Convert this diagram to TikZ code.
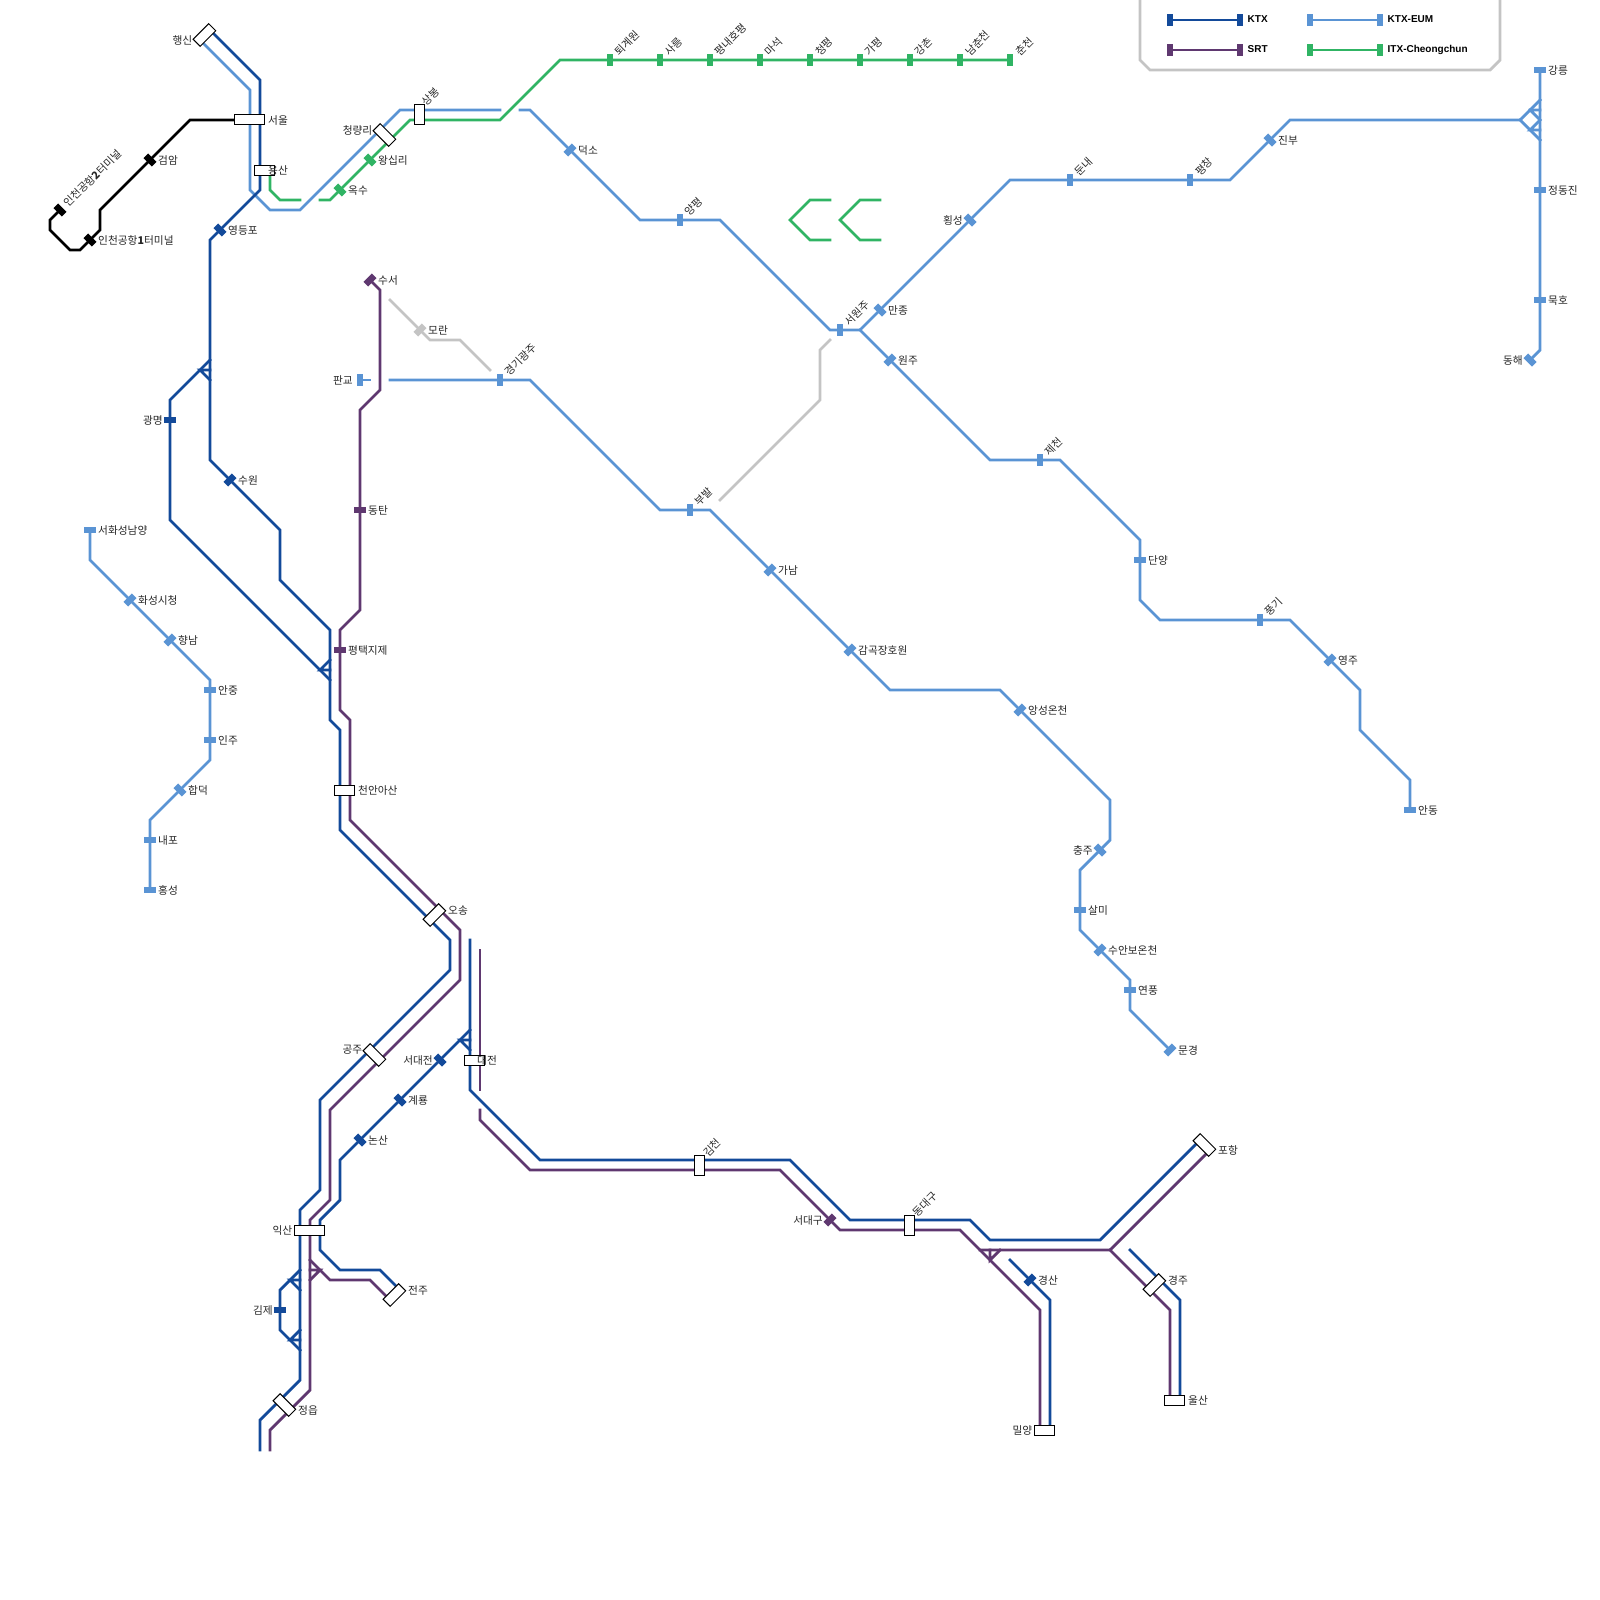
\documentclass[tikz,border=0pt]{standalone}
\usepackage{fontspec}
\setmainfont{Noto Sans CJK KR}
\newfontfamily\lgfont{Liberation Sans}
\pgfdeclarelayer{lines}
\pgfsetlayers{lines,main}
\definecolor{ktx}{HTML}{134A9A}
\definecolor{eum}{HTML}{5A94D4}
\definecolor{srt}{HTML}{5F3870}
\definecolor{itx}{HTML}{30B464}
\definecolor{arex}{HTML}{000000}
\definecolor{gry}{HTML}{C4C4C4}
\tikzset{
  rail/.style={draw=#1,line width=2.8pt,line cap=rect},
  mk/.style={rectangle,fill=#1,draw=none,inner sep=0pt,minimum width=12pt,minimum height=6.5pt},
  bx/.style={rectangle,fill=white,draw=black,line width=1pt,inner sep=0pt,xshift=-0.6pt},
  lbl/.style={inner sep=0pt,yshift=-0.2pt,font=\fontsize{10.7pt}{11pt}\selectfont,text=black!85},
  lg/.style={inner sep=0pt,anchor=west,font=\lgfont\bfseries\fontsize{10pt}{11pt}\selectfont},
  wall/.style={draw=gry,line width=2.8pt}
}
\newcommand{\Mk}[5]{\node[mk=#5,rotate=#4] (#1) at (#2,#3) {};}
\newcommand{\Bx}[6]{\node[bx,minimum width=#5pt,minimum height=#6pt,rotate=#4] (#1) at (#2,#3) {};}
\newcommand{\LblR}[2]{\node[lbl,anchor=west] (#1t) at ([xshift=8pt]#1.center) {#2};}
\newcommand{\LblL}[2]{\node[lbl,anchor=east] (#1t) at ([xshift=-7pt]#1.center) {#2};}
\newcommand{\LblU}[2]{\node[lbl,anchor=west,rotate=45] (#1t) at ([xshift=7pt,yshift=6.4pt]#1.center) {#2};}
\newcommand{\LblA}[5]{\node[lbl,anchor=#4] (#1t) at (#2,#3) {#5};}
\begin{document}
\begin{tikzpicture}[x=1pt,y=-1pt]
\useasboundingbox (0,0) rectangle (1600,1600);
% ---------- small stations
\Mk{inchb}{60}{210}{-45}{arex}
\Mk{incha}{90}{240}{-45}{arex}
\Mk{geomam}{150}{160}{-45}{arex}
\Mk{yeongdp}{220}{230}{-45}{ktx}
\Mk{suwon}{230}{480}{45}{ktx}
\Mk{gwangm}{170}{420}{0}{ktx}
\Mk{gimje}{280}{1310}{0}{ktx}
\Mk{seodj}{440}{1060}{-45}{ktx}
\Mk{gyeryong}{400}{1100}{-45}{ktx}
\Mk{nonsan}{360}{1140}{-45}{ktx}
\Mk{gyeongsan}{1030}{1280}{45}{ktx}
\Mk{suseo}{370}{280}{45}{srt}
\Mk{dongtan}{360}{510}{0}{srt}
\Mk{pyeongtaek}{340}{650}{0}{srt}
\Mk{seodg}{830}{1220}{45}{srt}
\Mk{moran}{420}{330}{45}{gry}
\Mk{oksu}{340}{190}{-45}{itx}
\Mk{wangsim}{370}{160}{-45}{itx}
\Mk{toegye}{610}{60}{90}{itx}
\Mk{sareung}{660}{60}{90}{itx}
\Mk{pyeongnae}{710}{60}{90}{itx}
\Mk{maseok}{760}{60}{90}{itx}
\Mk{cheongp}{810}{60}{90}{itx}
\Mk{gapyeong}{860}{60}{90}{itx}
\Mk{gangchon}{910}{60}{90}{itx}
\Mk{namchun}{960}{60}{90}{itx}
\Mk{chuncheon}{1010}{60}{90}{itx}
\Mk{deokso}{570}{150}{45}{eum}
\Mk{yangp}{680}{220}{90}{eum}
\Mk{seowonju}{840}{330}{90}{eum}
\Mk{manjong}{880}{310}{-45}{eum}
\Mk{wonju}{890}{360}{45}{eum}
\Mk{hoengs}{970}{220}{-45}{eum}
\Mk{dunnae}{1070}{180}{90}{eum}
\Mk{pyeongch}{1190}{180}{90}{eum}
\Mk{jinbu}{1270}{140}{-45}{eum}
\Mk{gangn}{1540}{70}{0}{eum}
\Mk{jeongd}{1540}{190}{0}{eum}
\Mk{mukho}{1540}{300}{0}{eum}
\Mk{donghae}{1530}{360}{-45}{eum}
\Mk{jecheon}{1040}{460}{90}{eum}
\Mk{danyang}{1140}{560}{0}{eum}
\Mk{punggi}{1260}{620}{90}{eum}
\Mk{yeongju}{1330}{660}{45}{eum}
\Mk{andong}{1410}{810}{0}{eum}
\Mk{pangyo}{360}{380}{90}{eum}
\Mk{gwangju}{500}{380}{90}{eum}
\Mk{bubal}{690}{510}{90}{eum}
\Mk{ganam}{770}{570}{45}{eum}
\Mk{gamgok}{850}{650}{45}{eum}
\Mk{angseong}{1020}{710}{45}{eum}
\Mk{chungju}{1100}{850}{-45}{eum}
\Mk{salmi}{1080}{910}{0}{eum}
\Mk{suanbo}{1100}{950}{45}{eum}
\Mk{yeonp}{1130}{990}{0}{eum}
\Mk{mungyeong}{1170}{1050}{45}{eum}
\Mk{hwnam}{90}{530}{0}{eum}
\Mk{hwcity}{130}{600}{45}{eum}
\Mk{hyangn}{170}{640}{45}{eum}
\Mk{anjung}{210}{690}{0}{eum}
\Mk{inju}{210}{740}{0}{eum}
\Mk{hapdeok}{180}{790}{-45}{eum}
\Mk{naepo}{150}{840}{0}{eum}
\Mk{hongs}{150}{890}{0}{eum}
% ---------- large stations
\Bx{haengsin}{205}{35}{45}{22}{10}
\Bx{seoul}{250}{120}{0}{30}{10}
\Bx{yongsan}{265}{170}{0}{20}{10}
\Bx{cheongn}{385}{135}{-45}{22}{10}
\Bx{sangb}{420}{115}{0}{10}{20}
\Bx{cheonan}{345}{790}{0}{20}{10}
\Bx{osong}{435}{915}{45}{22}{10}
\Bx{gongju}{375}{1055}{-45}{22}{10}
\Bx{daejeon}{475}{1060}{0}{20}{10}
\Bx{iksan}{310}{1230}{0}{30}{10}
\Bx{jeongeup}{285}{1405}{-45}{22}{10}
\Bx{jeonju}{395}{1295}{45}{22}{10}
\Bx{gimcheon}{700}{1165}{0}{10}{20}
\Bx{dongdg}{910}{1225}{0}{10}{20}
\Bx{miryang}{1045}{1430}{0}{20}{10}
\Bx{ulsan}{1175}{1400}{0}{20}{10}
\Bx{gyeongju}{1155}{1285}{45}{22}{10}
\Bx{pohang}{1205}{1145}{-45}{22}{10}
% ---------- labels
\LblA{haengsin}{192.5}{40}{east}{행신}
\LblA{seoul}{268}{120}{west}{서울}
\LblA{yongsan}{268}{170}{west}{용산}
\LblA{cheongn}{372.5}{130}{east}{청량리}
\node[lbl,anchor=west,rotate=45] (sangbt) at (424,104) {상봉};
\LblA{cheonan}{358}{790}{west}{천안아산}
\LblA{osong}{448}{910}{west}{오송}
\LblA{gongju}{362.5}{1050}{east}{공주}
\LblA{daejeon}{477}{1060}{west}{대전}
\LblA{iksan}{292.5}{1230}{east}{익산}
\LblA{jeongeup}{298}{1410}{west}{정읍}
\LblA{jeonju}{408}{1290}{west}{전주}
\node[lbl,anchor=west,rotate=45] (gimcheont) at (705,1155) {김천};
\node[lbl,anchor=west,rotate=45] (dongdgt) at (915,1215) {동대구};
\LblA{miryang}{1032.5}{1430}{east}{밀양}
\LblA{ulsan}{1188}{1400}{west}{울산}
\LblA{gyeongju}{1168}{1280}{west}{경주}
\LblA{pohang}{1218}{1150}{west}{포항}
\node[lbl,anchor=west,rotate=45] (inchbt) at (66,205) {인천공항{\bfseries 2}터미널};
\LblR{incha}{인천공항{\bfseries 1}터미널}
\LblR{geomam}{검암}
\LblR{yeongdp}{영등포}
\LblR{suwon}{수원}
\LblL{gwangm}{광명}
\LblL{gimje}{김제}
\LblL{seodj}{서대전}
\LblR{gyeryong}{계룡}
\LblR{nonsan}{논산}
\LblR{gyeongsan}{경산}
\LblR{suseo}{수서}
\LblR{dongtan}{동탄}
\LblR{pyeongtaek}{평택지제}
\LblL{seodg}{서대구}
\LblR{moran}{모란}
\LblR{oksu}{옥수}
\LblR{wangsim}{왕십리}
\LblU{toegye}{퇴계원}
\LblU{sareung}{사릉}
\LblU{pyeongnae}{평내호평}
\LblU{maseok}{마석}
\LblU{cheongp}{청평}
\LblU{gapyeong}{가평}
\LblU{gangchon}{강촌}
\LblU{namchun}{남춘천}
\LblU{chuncheon}{춘천}
\LblR{deokso}{덕소}
\LblU{yangp}{양평}
\LblU{seowonju}{서원주}
\LblR{manjong}{만종}
\LblR{wonju}{원주}
\LblL{hoengs}{횡성}
\LblU{dunnae}{둔내}
\LblU{pyeongch}{평창}
\LblR{jinbu}{진부}
\LblR{gangn}{강릉}
\LblR{jeongd}{정동진}
\LblR{mukho}{묵호}
\LblL{donghae}{동해}
\LblU{jecheon}{제천}
\LblR{danyang}{단양}
\LblU{punggi}{풍기}
\LblR{yeongju}{영주}
\LblR{andong}{안동}
\LblL{pangyo}{판교}
\LblU{gwangju}{경기광주}
\LblU{bubal}{부발}
\LblR{ganam}{가남}
\LblR{gamgok}{감곡장호원}
\LblR{angseong}{앙성온천}
\LblL{chungju}{충주}
\LblR{salmi}{살미}
\LblR{suanbo}{수안보온천}
\LblR{yeonp}{연풍}
\LblR{mungyeong}{문경}
\LblR{hwnam}{서화성남양}
\LblR{hwcity}{화성시청}
\LblR{hyangn}{향남}
\LblR{anjung}{안중}
\LblR{inju}{인주}
\LblR{hapdeok}{합덕}
\LblR{naepo}{내포}
\LblR{hongs}{홍성}
% ---------- legend
\node[mk=ktx,rotate=90] (lgktxa) at (1170,20) {};
\node[mk=ktx,rotate=90] (lgktxb) at (1240,20) {};
\node[mk=srt,rotate=90] (lgsrta) at (1170,50) {};
\node[mk=srt,rotate=90] (lgsrtb) at (1240,50) {};
\node[mk=eum,rotate=90] (lgeuma) at (1310,20) {};
\node[mk=eum,rotate=90] (lgeumb) at (1380,20) {};
\node[mk=itx,rotate=90] (lgitxa) at (1310,50) {};
\node[mk=itx,rotate=90] (lgitxb) at (1380,50) {};
\node[lg] (lgktxt) at (1247.5,19.5) {KTX};
\node[lg] (lgsrtt) at (1247.5,49.5) {SRT};
\node[lg] (lgeumt) at (1387.5,19.5) {KTX-EUM};
\node[lg] (lgitxt) at (1387.5,49.5) {ITX-Cheongchun};
% ---------- lines
\begin{pgfonlayer}{lines}
\draw[wall] (1140,-5) -- (1140,60) -- (1150,70) -- (1490,70) -- (1500,60) -- (1500,-5);
\draw[rail=ktx] (lgktxa.center) -- (lgktxb.center);
\draw[rail=srt] (lgsrta.center) -- (lgsrtb.center);
\draw[rail=eum] (lgeuma.center) -- (lgeumb.center);
\draw[rail=itx] (lgitxa.center) -- (lgitxb.center);
% AREX
\draw[rail=arex] (inchb.center) -- (50,220) -- (50,230) -- (70,250) -- (80,250) -- (incha.center) -- (100,230) -- (100,210) -- (geomam.center) -- (190,120) -- (seoul.center);
% grey
\draw[rail=gry] (390,300) -- (moran.center) -- (430,340) -- (460,340) -- (490,370);
\draw[rail=gry] (830,340) -- (820,350) -- (820,400) -- (720,500);
% ITX decor
\draw[rail=itx] (830,200) -- (810,200) -- (790,220) -- (810,240) -- (830,240);
\draw[rail=itx] (880,200) -- (860,200) -- (840,220) -- (860,240) -- (880,240);
% ITX
\draw[rail=itx] (270,170) -- (270,190) -- (280,200) -- (300,200);
\draw[rail=itx] (320,200) -- (330,200) -- (oksu.center) -- (wangsim.center) -- (410,120) -- (500,120) -- (560,60) -- (toegye.center) -- (chuncheon.center);
% EUM
\draw[rail=eum] (200,40) -- (250,90) -- (250,190) -- (270,210) -- (300,210) -- (400,110) -- (500,110);
\draw[rail=eum] (520,110) -- (530,110) -- (deokso.center) -- (640,220) -- (yangp.center) -- (720,220) -- (830,330) -- (seowonju.center) -- (860,330) -- (manjong.center) -- (hoengs.center) -- (1010,180) -- (dunnae.center) -- (pyeongch.center) -- (1230,180) -- (jinbu.center) -- (1290,120) -- (1520,120) -- (1540,100);
\draw[rail=eum] (1520,120) -- (1540,140);
\draw[rail=eum] (gangn.center) -- (jeongd.center) -- (mukho.center) -- (1540,350) -- (donghae.center);
\draw[rail=eum] (1530,110) -- (1540,110) (1530,110) -- (1540,120) -- (1530,130) -- (1540,130);
\draw[rail=eum] (860,330) -- (wonju.center) -- (990,460) -- (jecheon.center) -- (1060,460) -- (1140,540) -- (1140,600) -- (1160,620) -- (punggi.center) -- (1290,620) -- (yeongju.center) -- (1360,690) -- (1360,730) -- (1410,780) -- (andong.center);
\draw[rail=eum] (pangyo.center) -- (370,380);
\draw[rail=eum] (390,380) -- (gwangju.center) -- (530,380) -- (660,510) -- (bubal.center) -- (710,510) -- (ganam.center) -- (gamgok.center) -- (890,690) -- (1000,690) -- (angseong.center) -- (1110,800) -- (1110,840) -- (chungju.center) -- (1080,870) -- (salmi.center) -- (1080,930) -- (suanbo.center) -- (1130,980) -- (1130,1010) -- (mungyeong.center);
\draw[rail=eum] (hwnam.center) -- (90,560) -- (hwcity.center) -- (hyangn.center) -- (210,680) -- (anjung.center) -- (inju.center) -- (210,760) -- (hapdeok.center) -- (150,820) -- (naepo.center) -- (hongs.center);
% SRT
\draw[rail=srt] (suseo.center) -- (380,290) -- (380,390) -- (360,410) -- (dongtan.center) -- (360,610) -- (340,630) -- (pyeongtaek.center) -- (340,710) -- (350,720) -- (350,820) -- (460,930) -- (460,980) -- (330,1110) -- (330,1200) -- (310,1220) -- (310,1390) -- (270,1430) -- (270,1450);
\draw[rail=srt] (310,1260) -- (330,1280) -- (370,1280) -- (390,1300);
\draw[rail=srt] (310,1270) -- (320,1270) -- (310,1280);
\draw[rail=srt] (480,950) -- (480,1090);
\draw[rail=srt] (480,1110) -- (480,1120) -- (530,1170) -- (780,1170) -- (seodg.center) -- (840,1230) -- (960,1230) -- (1040,1310) -- (1040,1430);
\draw[rail=srt] (980,1250) -- (1110,1250) -- (1210,1150);
\draw[rail=srt] (1110,1250) -- (1170,1310) -- (1170,1400);
\draw[rail=srt] (990,1250) -- (990,1260) -- (1000,1250);
% KTX
\draw[rail=ktx] (210,30) -- (260,80) -- (260,190) -- (yeongdp.center) -- (210,240) -- (210,460) -- (suwon.center) -- (280,530) -- (280,580) -- (330,630) -- (330,720) -- (340,730) -- (340,830) -- (450,940) -- (450,970) -- (320,1100) -- (320,1190) -- (300,1210) -- (300,1380) -- (260,1420) -- (260,1450);
\draw[rail=ktx] (210,360) -- (170,400) -- (gwangm.center) -- (170,520) -- (330,680);
\draw[rail=ktx] (210,370) -- (200,370) -- (210,380);
\draw[rail=ktx] (330,660) -- (320,670) -- (330,670);
\draw[rail=ktx] (470,940) -- (470,1090) -- (540,1160) -- (790,1160) -- (850,1220) -- (970,1220) -- (990,1240) -- (1100,1240) -- (1200,1140);
\draw[rail=ktx] (470,1030) -- (seodj.center) -- (gyeryong.center) -- (nonsan.center) -- (340,1160) -- (340,1200) -- (320,1220) -- (320,1250) -- (340,1270) -- (380,1270) -- (400,1290);
\draw[rail=ktx] (470,1040) -- (460,1040) -- (470,1050);
\draw[rail=ktx] (300,1270) -- (280,1290) -- (gimje.center) -- (280,1330) -- (300,1350);
\draw[rail=ktx] (300,1280) -- (290,1280) -- (300,1290);
\draw[rail=ktx] (300,1330) -- (290,1340) -- (300,1340);
\draw[rail=ktx] (1010,1260) -- (gyeongsan.center) -- (1050,1300) -- (1050,1430);
\draw[rail=ktx] (1130,1250) -- (1180,1300) -- (1180,1400);
\end{pgfonlayer}
\end{tikzpicture}
\end{document}
